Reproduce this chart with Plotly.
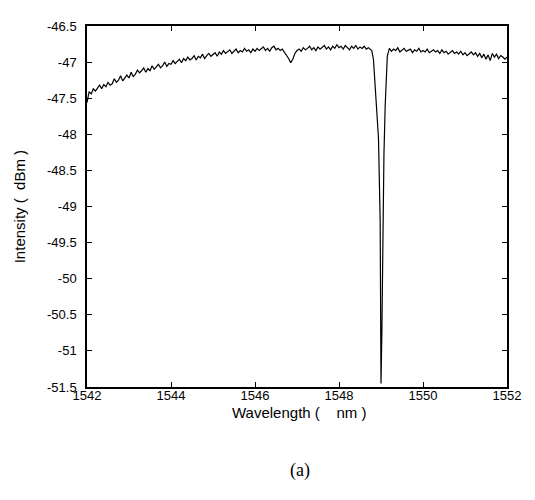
import numpy as np
import plotly.graph_objects as go

# Segment 1: 1542.00 .. 1548.75, step 0.05 nm (one row per nm)
seg1_start = 1542.00
seg1_y = [
    -47.56, -47.41, -47.44, -47.37, -47.40, -47.36, -47.32, -47.37, -47.31, -47.34,
    -47.28, -47.32, -47.30, -47.23, -47.28, -47.25, -47.19, -47.26, -47.21, -47.18,
    # 1543
    -47.22, -47.14, -47.20, -47.17, -47.11, -47.15, -47.12, -47.08, -47.14, -47.09,
    -47.12, -47.05, -47.10, -47.07, -47.03, -47.08, -47.05, -47.00, -47.06, -47.02,
    # 1544
    -47.03, -46.98, -47.02, -46.99, -46.96, -47.01, -46.95, -46.98, -46.93, -46.97,
    -46.95, -46.91, -46.97, -46.92, -46.94, -46.89, -46.95, -46.91, -46.88, -46.92,
    # 1545
    -46.90, -46.87, -46.92, -46.86, -46.89, -46.84, -46.88, -46.86, -46.83, -46.88,
    -46.85, -46.82, -46.87, -46.84, -46.86, -46.81, -46.85, -46.83, -46.87, -46.82,
    # 1546
    -46.85, -46.81, -46.84, -46.82, -46.79, -46.84, -46.81, -46.85, -46.80, -46.78,
    -46.83, -46.81, -46.84, -46.82, -46.86, -46.90, -46.95, -47.01, -46.96, -46.88,
    # 1547
    -46.84, -46.82, -46.85, -46.80, -46.83, -46.81, -46.78, -46.83, -46.80, -46.84,
    -46.79, -46.82, -46.80, -46.77, -46.82, -46.79, -46.83, -46.78, -46.81, -46.76,
    # 1548 (to 1548.75)
    -46.80, -46.78, -46.82, -46.77, -46.80, -46.83, -46.78, -46.81, -46.77, -46.82,
    -46.79, -46.81, -46.78, -46.82, -46.80, -46.83,
]

# Segment 2: the deep notch near 1549 nm
notch_x = [1548.78, 1548.82, 1548.86, 1548.94, 1548.98, 1548.99, 1549.00,
           1549.02, 1549.04, 1549.07, 1549.10, 1549.12, 1549.15, 1549.19]
notch_y = [-46.84, -46.96, -47.37, -48.05, -49.19, -50.32, -51.45,
           -50.77, -49.41, -48.28, -47.60, -47.23, -46.92, -46.83]

# Segment 3: 1549.20 .. 1552.00, step 0.05 nm
seg3_start = 1549.20
seg3_y = [
    -46.81, -46.85, -46.82, -46.84, -46.80, -46.86, -46.83, -46.81, -46.85, -46.84,
    -46.82, -46.87, -46.83, -46.85, -46.81, -46.86,
    # 1550
    -46.84, -46.86, -46.82, -46.87, -46.85, -46.83, -46.86, -46.84, -46.88, -46.83,
    -46.87, -46.85, -46.89, -46.86, -46.84, -46.88, -46.86, -46.89, -46.85, -46.90,
    # 1551
    -46.87, -46.91, -46.88, -46.86, -46.90, -46.87, -46.92, -46.88, -46.94, -46.89,
    -46.96, -46.90, -46.98, -46.88, -46.93, -46.89, -46.95, -46.91, -46.93, -46.96,
    # 1552
    -46.93,
]

x_ticks = [1542, 1544, 1546, 1548, 1550, 1552]
y_ticks = [-46.5, -47, -47.5, -48, -48.5, -49, -49.5, -50, -50.5, -51, -51.5]
y_tick_text = ["-46.5", "-47", "-47.5", "-48", "-48.5", "-49", "-49.5",
               "-50", "-50.5", "-51", "-51.5"]

seg1_x = np.round(seg1_start + 0.05 * np.arange(len(seg1_y)), 2)
seg3_x = np.round(seg3_start + 0.05 * np.arange(len(seg3_y)), 2)
x_all = list(seg1_x) + notch_x + list(seg3_x)
y_all = seg1_y + notch_y + seg3_y

fig = go.Figure()
fig.add_trace(go.Scatter(x=x_all, y=y_all, mode="lines",
                         line=dict(color="black", width=1.2), showlegend=False))

axis_common = dict(showline=True, linecolor="black", linewidth=1.5, mirror="ticks",
                   ticks="inside", ticklen=5, tickcolor="black", showgrid=False,
                   zeroline=False, tickfont=dict(family="Liberation Sans", size=13, color="black"))

fig.update_xaxes(range=[1542, 1552], tickvals=x_ticks, ticklabelstandoff=-4, **axis_common)
fig.update_yaxes(range=[-51.5, -46.5], tickvals=y_ticks, ticktext=y_tick_text,
                 ticklabelstandoff=6, **axis_common)

fig.update_layout(
    width=535, height=500,
    margin=dict(l=79, r=36, t=11, b=121),
    plot_bgcolor="white", paper_bgcolor="white",
    annotations=[
        dict(text="Wavelength (    nm )", xref="paper", yref="paper", x=0.507, y=-0.071,
             xanchor="center", yanchor="middle", showarrow=False,
             font=dict(family="Liberation Sans", size=15, color="black")),
        dict(text="Intensity (  dBm )", xref="paper", yref="paper", x=-0.16, y=0.5,
             xanchor="center", yanchor="middle", showarrow=False, textangle=-90,
             font=dict(family="Liberation Sans", size=15, color="black")),
        dict(text="(a)", xref="paper", yref="paper", x=0.507, y=-0.231,
             xanchor="center", yanchor="middle", showarrow=False,
             font=dict(family="Liberation Serif", size=18, color="black")),
    ],
)

fig.write_html("out.html")
